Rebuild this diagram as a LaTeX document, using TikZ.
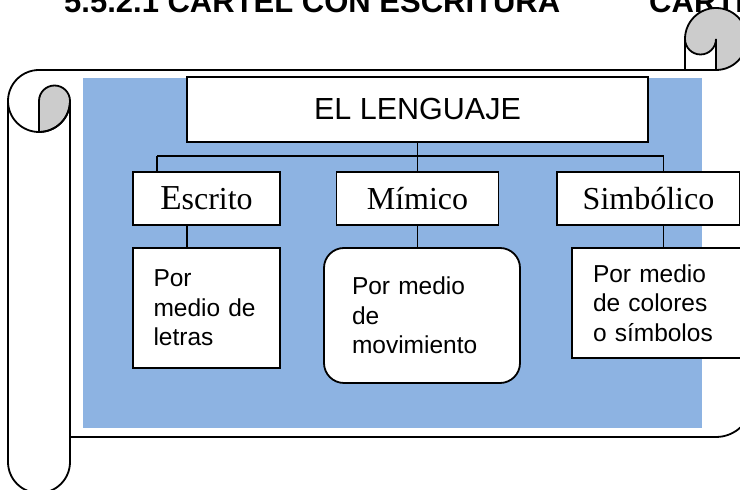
\documentclass[tikz,border=0pt]{standalone}
\usepackage{fontspec}
\setmainfont{Liberation Serif}
\setsansfont{Liberation Sans}
\usepackage{xcolor}
\usepackage{tikz}
\definecolor{cartelazul}{RGB}{141,179,226}
\definecolor{rollogris}{RGB}{204,204,204}
\tikzset{
	titulo/.style={draw, line width=1.8pt, fill=white, font=\sffamily\fontsize{30.5}{30.5}\selectfont, minimum width=461pt, minimum height=65pt, inner sep=0pt},
	tipo/.style={draw, line width=1.8pt, fill=white, font=\fontsize{32}{32}\selectfont, minimum height=53pt, inner sep=0pt},
	detalle/.style={draw, line width=1.8pt, fill=white, font=\sffamily\fontsize{24.5}{29.5}\selectfont, align=left, inner ysep=4pt},
	encabezado/.style={anchor=base west, font=\sffamily\bfseries\fontsize{31}{31}\selectfont}
}

\begin{document}
\begin{tikzpicture}[x=1pt, y=1pt, line width=1.8pt]
	\useasboundingbox (0,0) rectangle (740,490);
	\clip (0,0) rectangle (740,490);
	\node [encabezado] (cartel) at (60,477) {5.5.2.1 CARTEL CON ESCRITURA};
	\node [encabezado] (cartelb) at (645,477) {CARTEL};
	% rollo izquierdo
	\filldraw [fill=rollogris] (39,389) arc[start angle=180, end angle=0, radius=15.5] arc[start angle=0, end angle=-90, radius=31] -- cycle;
	\draw (39,420) arc[start angle=90, end angle=360, radius=31];
	\draw (8,389) -- (8,28) arc[start angle=180, end angle=360, radius=31] -- (70,389);
	% rollo derecho
	\filldraw [fill=rollogris] (716,420) arc[start angle=-90, end angle=180, radius=31] arc[start angle=180, end angle=360, radius=15.5] -- cycle;
	\draw (685,451) -- (685,420);
	\draw (39,420) -- (716,420);
	\draw (70,53) -- (716,53) arc[start angle=-90, end angle=0, radius=36] -- (752,300);
	\fill [cartelazul] (83,62) rectangle (702,412);
	% arbol
	\node [titulo] (lenguaje) at (417.5,380.5) {EL LENGUAJE};
	\node [tipo, minimum width=147pt] (escrito) at (206.5,291.5) {{\fontsize{35}{35}\selectfont E}scrito};
	\node [tipo, minimum width=162pt] (mimico) at (417.5,291.5) {Mímico};
	\node [tipo, minimum width=183pt] (simbolico) at (648.5,291.5) {Simbólico};
	\node [detalle, text width=106pt, inner xsep=20.5pt, minimum height=120pt] (letras) at (206.5,182) {Por\\medio de\\letras};
	\node [detalle, text width=140pt, inner xsep=28pt, minimum height=135pt, rounded corners=20pt] (movimiento) at (422,174.5) {Por medio\\de\\movimiento};
	\node [detalle, text width=127pt, inner xsep=21pt, minimum height=110pt] (simbolos) at (656.5,187) {Por medio\\de colores\\o símbolos};
	\coordinate (busL) at (157,334);
	\coordinate (busR) at (663.5,334);
	\coordinate (bajaE) at (187,0);
	\draw [line width=1.5pt] (busL) -- (busR);
	\draw [line width=1.5pt] (lenguaje) -- (mimico);
	\draw [line width=1.5pt] (busL) -- (escrito.north -| busL);
	\draw [line width=1.5pt] (busR) -- (simbolico.north -| busR);
	\draw [line width=1.5pt] (escrito.south -| bajaE) -- (letras.north -| bajaE);
	\draw [line width=1.5pt] (mimico.south) -- (mimico.south |- movimiento.north);
	\draw [line width=1.5pt] (simbolico.south -| busR) -- (simbolos.north -| busR);
\end{tikzpicture}
\end{document}
